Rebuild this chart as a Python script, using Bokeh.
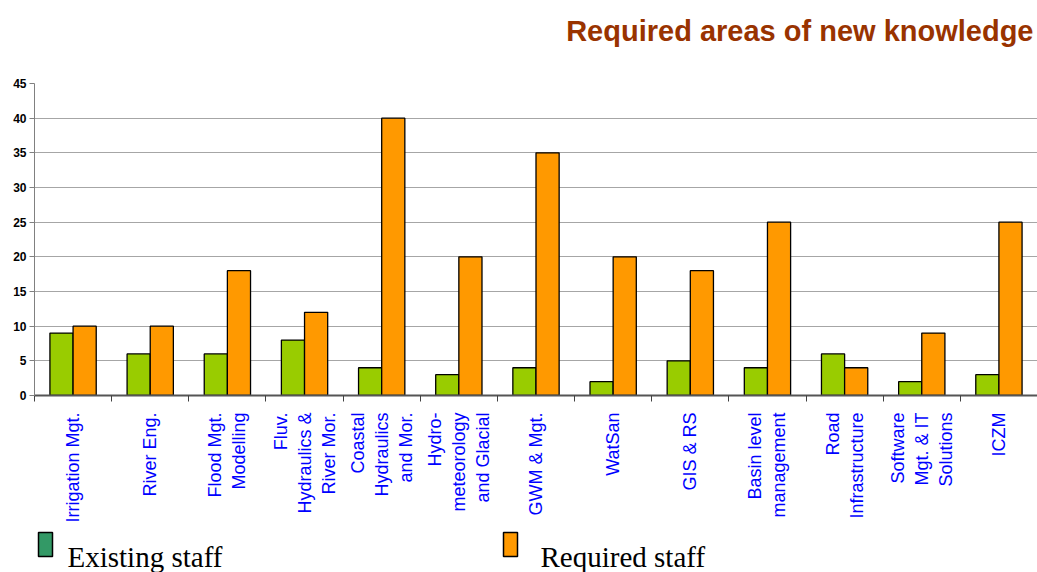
import math
from bokeh.plotting import figure
from bokeh.layouts import column
from bokeh.models import (FactorRange, Range1d, LinearAxis, FixedTicker, ColumnDataSource)
from bokeh.core.properties import value
from bokeh.transform import dodge
from bokeh.embed import file_html
from bokeh.resources import INLINE

categories = [
    "Irrigation Mgt.",
    "River Eng.",
    "Flood Mgt.\nModelling",
    "Fluv.\nHydraulics &\nRiver Mor.",
    "Coastal\nHydraulics\nand Mor.",
    "Hydro-\nmeteorology\nand Glacial",
    "GWM & Mgt.",
    "WatSan",
    "GIS & RS",
    "Basin level\nmanagement",
    "Road\nInfrastructure",
    "Software\nMgt. & IT\nSolutions",
    "ICZM",
]
existing_staff = [9, 6, 6, 8, 4, 3, 4, 2, 5, 4, 6, 2, 3]
required_staff = [10, 10, 18, 12, 40, 20, 35, 20, 18, 25, 4, 9, 25]
y_ticks = [0, 5, 10, 15, 20, 25, 30, 35, 40, 45]
title_text = "Required areas of new knowledge"
legend_labels = ["Existing staff", "Required staff"]
legend_colors = ["#339966", "#ff9900"]

W = 1037
LEFT = 34
n = len(categories)


def blank_fig(h):
    f = figure(width=W, height=h, x_range=Range1d(LEFT, W), y_range=Range1d(0, h),
               output_backend="svg", toolbar_location=None,
               x_axis_location=None, y_axis_location=None,
               min_border_left=LEFT, min_border_right=0, min_border_top=0, min_border_bottom=0,
               background_fill_color="white", border_fill_color="white")
    f.outline_line_color = None
    f.xgrid.visible = False
    f.ygrid.visible = False
    return f


# ---- title strip ----
TH = 70
tf = blank_fig(TH)
tf.text(x=[W - 4], y=[40], text=[title_text],
        text_font=value("Liberation Sans"), text_font_style="bold",
        text_font_size="29px", text_color="#993300",
        text_align="right", text_baseline="alphabetic")

# ---- main chart ----
src = ColumnDataSource(dict(cat=categories, existing=existing_staff, required=required_staff))
xr = FactorRange(*categories, range_padding=0)
MH = 460
p = figure(
    x_range=xr,
    y_range=Range1d(0, 45),
    width=W, height=MH,
    output_backend="svg", toolbar_location=None,
    x_axis_location=None,
    min_border_left=LEFT, min_border_right=0, min_border_top=83 - TH,
    min_border_bottom=TH + MH - 395,
    background_fill_color="white", border_fill_color="white",
)
p.outline_line_color = None

p.vbar(x=dodge("cat", -0.15, range=xr), top="existing", width=0.3, source=src,
       fill_color="#99cc00", line_color="black", line_width=1.3)
p.vbar(x=dodge("cat", 0.15, range=xr), top="required", width=0.3, source=src,
       fill_color="#ff9900", line_color="black", line_width=1.3)

yax = p.yaxis[0]
yax.ticker = FixedTicker(ticks=y_ticks)
yax.major_label_text_font = "Liberation Sans"
yax.major_label_text_font_style = "bold"
yax.major_label_text_font_size = "12px"
yax.major_label_text_color = "black"
yax.axis_line_color = "#808080"
yax.major_tick_line_color = "#808080"
yax.major_tick_out = 5
yax.major_tick_in = 0
yax.minor_tick_line_color = None
yax.major_label_standoff = 3

p.xgrid.visible = False
p.ygrid.grid_line_color = "#a6a6a6"
p.ygrid.grid_line_width = 1

# x axis in the factor range's synthetic coordinates:
# labels at category centres, tick marks at category boundaries
centres = [i + 0.5 for i in range(n)]
xax = LinearAxis(
    ticker=FixedTicker(ticks=centres, minor_ticks=list(range(n + 1))),
    major_label_overrides={c: lab for c, lab in zip(centres, categories)},
    major_tick_line_color=None, major_tick_out=0, major_tick_in=0,
    minor_tick_line_color="#404040", minor_tick_out=6, minor_tick_in=0,
    axis_line_color="#555555", axis_line_width=2,
    major_label_orientation=math.pi / 2,
    major_label_text_color="#0000ff",
    major_label_text_font="Liberation Sans",
    major_label_text_font_size="18px",
    major_label_standoff=11,
)
p.add_layout(xax, "below")

# ---- legend strip ----
LH = 572 - TH - MH
top0 = TH + MH
lsrc = ColumnDataSource(dict(
    left=[38, 503], right=[52, 517],
    bottom=[LH - (556 - top0)] * 2, top=[LH - (532 - top0)] * 2,
    tx=[67, 540], ty=[16, 16],
    label=legend_labels, color=legend_colors,
))
lf = blank_fig(LH)
lf.quad(left="left", right="right", bottom="bottom", top="top", source=lsrc,
        fill_color="color", line_color="black", line_width=1.5)
lf.text(x="tx", y="ty", text="label", source=lsrc,
        text_font=value("Liberation Serif"), text_font_size="29px",
        text_color="black", text_baseline="alphabetic")

layout = column(tf, p, lf, spacing=0)
open("out.html", "w").write(file_html(layout, INLINE))
